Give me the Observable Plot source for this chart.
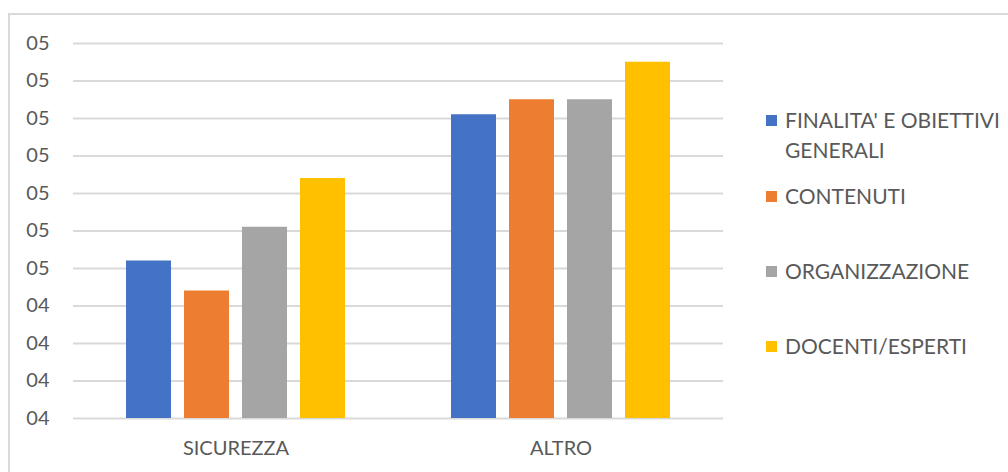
<!DOCTYPE html>
<html>
<head>
<meta charset="utf-8">
<script src="https://cdn.jsdelivr.net/npm/d3@7"></script>
<script src="https://cdn.jsdelivr.net/npm/@observablehq/plot@0.6"></script>
<style>
  html, body { margin: 0; padding: 0; background: #fff; }
  #wrap { position: relative; width: 1008px; height: 472px; overflow: hidden; font-family: Lato, "Open Sans", sans-serif; }
  #border { position: absolute; left: 8px; top: 13px; width: 1100px; height: 600px; border: 2px solid #d9d9d9; box-sizing: border-box; }
  #chart { position: absolute; left: 0; top: 0; }
  .leg { position: absolute; left: 766px; width: 242px; font-size: 21px; line-height: 30px; color: #595959; }
  .leg .sw { position: absolute; left: 0; top: 10px; width: 11px; height: 11px; }
  .leg .tx { margin-left: 19px; width: 223px; white-space: normal; }
</style>
</head>
<body>
<div id="wrap">
  <div id="border"></div>
  <div id="chart"></div>
</div>
<script>
const categories = ["SICUREZZA", "ALTRO"];
const seriesNames = ["FINALITA' E OBIETTIVI GENERALI", "CONTENUTI", "ORGANIZZAZIONE", "DOCENTI/ESPERTI"];
const finalita = [4.52, 4.91];
const contenuti = [4.44, 4.95];
const organizzazione = [4.61, 4.95];
const docenti = [4.74, 5.05];
const seriesColors = ["#4472C4", "#ED7D31", "#A5A5A5", "#FFC000"];
const yTicks = [4.1, 4.2, 4.3, 4.4, 4.5, 4.6, 4.7, 4.8, 4.9, 5.0, 5.1];
const yTickLabels = ["04", "04", "04", "04", "05", "05", "05", "05", "05", "05", "05"];

const seriesValues = [finalita, contenuti, organizzazione, docenti];
const rows = [];
categories.forEach((c, ci) => {
  seriesNames.forEach((s, si) => {
    rows.push({category: c, series: s, value: seriesValues[si][ci]});
  });
});
const yBase = yTicks[0];

const chart = Plot.plot({
  width: 1008,
  height: 472,
  marginLeft: 73,
  marginRight: 285,
  marginTop: 43,
  marginBottom: 54,
  style: {background: "transparent", fontFamily: "Lato, 'Open Sans', sans-serif", fontSize: "20px", color: "#595959"},
  fx: {domain: categories, padding: 0, label: null, tickSize: 0, tickPadding: 22, axis: "bottom"},
  x: {domain: seriesNames, paddingInner: 0.22, paddingOuter: 0.87, axis: null},
  y: {domain: [yTicks[0], yTicks[yTicks.length - 1]], ticks: yTicks, tickFormat: d => yTickLabels[yTicks.indexOf(d)], tickSize: 0, tickPadding: 24, label: null},
  color: {domain: seriesNames, range: seriesColors},
  marks: [
    Plot.ruleY(yTicks, {stroke: "#d9d9d9", strokeWidth: 2}),
    Plot.barY(rows, {fx: "category", x: "series", y1: () => yBase, y2: "value", fill: "series"})
  ]
});
document.getElementById("chart").appendChild(chart);

const legendTops = [105, 181, 256, 331];
const wrap = document.getElementById("wrap");
seriesNames.forEach((s, i) => {
  const item = document.createElement("div");
  item.className = "leg";
  item.style.top = legendTops[i] + "px";
  const sw = document.createElement("div");
  sw.className = "sw";
  sw.style.background = seriesColors[i];
  const tx = document.createElement("div");
  tx.className = "tx";
  tx.textContent = s;
  item.appendChild(sw);
  item.appendChild(tx);
  wrap.appendChild(item);
});
</script>
</body>
</html>
